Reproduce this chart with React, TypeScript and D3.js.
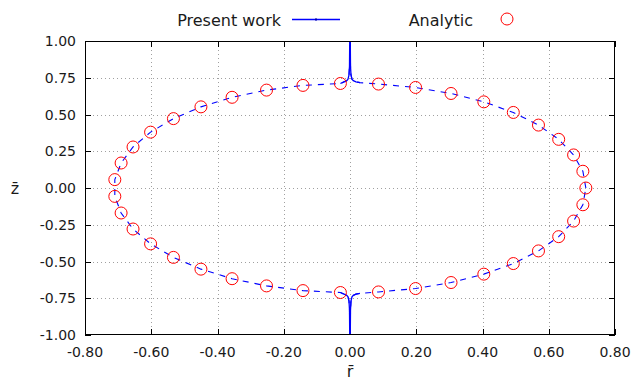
import React from 'react';
import * as d3 from 'd3';

// analytic solution points (r, z)
const analyticR = [
  0.712, 0.703, 0.675, 0.63, 0.569, 0.493, 0.404, 0.305, 0.198, 0.086, -0.029, -0.142, -0.252,
  -0.356, -0.45, -0.533, -0.602, -0.655, -0.691, -0.71, -0.71, -0.691, -0.655, -0.602, -0.533,
  -0.45, -0.356, -0.252, -0.142, -0.029, 0.086, 0.198, 0.305, 0.404, 0.493, 0.569, 0.63, 0.675,
  0.703,
];
const analyticZ = [
  0.0, 0.114, 0.225, 0.331, 0.428, 0.514, 0.586, 0.643, 0.684, 0.707, 0.711, 0.698, 0.666, 0.617,
  0.552, 0.472, 0.38, 0.279, 0.17, 0.057, -0.057, -0.17, -0.279, -0.38, -0.472, -0.552, -0.617,
  -0.666, -0.698, -0.711, -0.707, -0.684, -0.643, -0.586, -0.514, -0.428, -0.331, -0.225, -0.114,
];

// present work curve, with the spikes on the axis
const presentR = [
  0.712, 0.703, 0.675, 0.63, 0.569, 0.493, 0.404, 0.305, 0.198, 0.086,
  0.03, 0.018, 0.01, 0.006, 0.003, 0.0015, 0.0005, -0.0005, -0.0015, -0.003, -0.006, -0.01, -0.018,
  -0.029, -0.142, -0.252, -0.356, -0.45, -0.533, -0.602, -0.655, -0.691, -0.71, -0.71, -0.691,
  -0.655, -0.602, -0.533, -0.45, -0.356, -0.252, -0.142, -0.029,
  -0.018, -0.01, -0.006, -0.003, -0.0015, -0.0005, 0.0005, 0.0015, 0.003, 0.006, 0.01, 0.018, 0.03,
  0.086, 0.198, 0.305, 0.404, 0.493, 0.569, 0.63, 0.675, 0.703, 0.712,
];
const presentZ = [
  0.0, 0.114, 0.225, 0.331, 0.428, 0.514, 0.586, 0.643, 0.684, 0.707,
  0.717, 0.722, 0.73, 0.74, 0.77, 0.83, 1.1, 1.1, 0.83, 0.77, 0.74, 0.73, 0.722,
  0.711, 0.698, 0.666, 0.617, 0.552, 0.472, 0.38, 0.279, 0.17, 0.057, -0.057, -0.17, -0.279, -0.38,
  -0.472, -0.552, -0.617, -0.666, -0.698, -0.711,
  -0.722, -0.73, -0.74, -0.77, -0.83, -1.1, -1.1, -0.83, -0.77, -0.74, -0.73, -0.722, -0.717,
  -0.707, -0.684, -0.643, -0.586, -0.514, -0.428, -0.331, -0.225, -0.114, 0.0,
];

const xTicks = [-0.8, -0.6, -0.4, -0.2, 0, 0.2, 0.4, 0.6, 0.8];
const yTicks = [-1, -0.75, -0.5, -0.25, 0, 0.25, 0.5, 0.75, 1];

const W = 631;
const H = 382;
const margin = { left: 85, right: 16, top: 41, bottom: 47 };
const font = '"DejaVu Sans", sans-serif';

const App: React.FC = () => {
  const x = d3.scaleLinear().domain([-0.8, 0.8]).range([margin.left, W - margin.right]);
  const y = d3.scaleLinear().domain([-1, 1]).range([H - margin.bottom, margin.top]);

  const present = presentR.map((r, i) => ({ r, z: presentZ[i] }));
  const analytic = analyticR.map((r, i) => ({ r, z: analyticZ[i] }));

  const line = d3
    .line<{ r: number; z: number }>()
    .x((d) => x(d.r))
    .y((d) => y(d.z));
  // spikes near r = 0 are drawn solid
  const spike = d3
    .line<{ r: number; z: number }>()
    .defined((d) => Math.abs(d.r) < 0.035)
    .x((d) => x(d.r))
    .y((d) => y(d.z));

  const x0 = margin.left;
  const x1 = W - margin.right;
  const y0 = H - margin.bottom;
  const y1 = margin.top;
  const tick = 6;

  return (
    <svg
      width={W}
      height={H}
      style={{ position: 'absolute', left: 0, top: 0, background: '#fff' }}
      fontFamily={font}
    >
      <defs>
        <clipPath id="plot">
          <rect x={x0} y={y1} width={x1 - x0} height={y0 - y1} />
        </clipPath>
      </defs>

      {/* grid */}
      <g stroke="#a0a0a0" strokeWidth={1} strokeDasharray="1,3">
        {xTicks.slice(1, -1).map((t) => (
          <line key={'gx' + t} x1={Math.round(x(t)) + 0.5} x2={Math.round(x(t)) + 0.5} y1={y0} y2={y1} />
        ))}
        {yTicks.slice(1, -1).map((t) => (
          <line key={'gy' + t} x1={x0} x2={x1} y1={Math.round(y(t)) + 0.5} y2={Math.round(y(t)) + 0.5} />
        ))}
      </g>

      {/* ticks, mirrored */}
      <g stroke="#000" strokeWidth={1}>
        {xTicks.map((t) => {
          const px = Math.round(x(t)) + 0.5;
          return (
            <g key={'tx' + t}>
              <line x1={px} x2={px} y1={y0} y2={y0 - tick} />
              <line x1={px} x2={px} y1={y1} y2={y1 + tick} />
            </g>
          );
        })}
        {yTicks.map((t) => {
          const py = Math.round(y(t)) + 0.5;
          return (
            <g key={'ty' + t}>
              <line x1={x0} x2={x0 + tick} y1={py} y2={py} />
              <line x1={x1} x2={x1 - tick} y1={py} y2={py} />
            </g>
          );
        })}
      </g>

      {/* curves */}
      <g clipPath="url(#plot)">
        <path d={line(present) || ''} fill="none" stroke="#0000ff" strokeWidth={1.1} strokeDasharray="6,6" />
        <path d={spike(present) || ''} fill="none" stroke="#0000ff" strokeWidth={1.3} />
      </g>
      {analytic.map((d, i) => (
        <circle key={i} cx={x(d.r)} cy={y(d.z)} r={6} fill="none" stroke="#ff0000" strokeWidth={1} />
      ))}

      {/* border */}
      <rect
        x={x0 + 0.5}
        y={y1 + 0.5}
        width={x1 - x0 - 1}
        height={y0 - y1 - 1}
        fill="none"
        stroke="#000"
        strokeWidth={1}
      />

      {/* tick labels */}
      <g fontSize={14} fill="#1a1a1a">
        {xTicks.map((t) => (
          <text key={'lx' + t} x={x(t)} y={357} textAnchor="middle">
            {t.toFixed(2)}
          </text>
        ))}
        {yTicks.map((t) => (
          <text key={'ly' + t} x={76} y={y(t) + 5} textAnchor="end">
            {t.toFixed(2)}
          </text>
        ))}
      </g>

      {/* axis titles */}
      <text x={x(0)} y={377} fontSize={16} textAnchor="middle" fill="#1a1a1a">
        {'r\u0304'}
      </text>
      <text x={15} y={194} fontSize={16} textAnchor="middle" fill="#1a1a1a">
        {'z\u0304'}
      </text>

      {/* legend */}
      <g fontSize={16} fill="#1a1a1a">
        <text x={281} y={26} textAnchor="end">
          Present work
        </text>
        <line x1={292} x2={340} y1={19.5} y2={19.5} stroke="#0000ff" strokeWidth={1.3} />
        <rect x={315} y={18.5} width={2} height={2} fill="#0000aa" />
        <text x={473} y={26} textAnchor="end">
          Analytic
        </text>
        <circle cx={507} cy={19} r={6} fill="none" stroke="#ff0000" strokeWidth={1} />
      </g>
    </svg>
  );
};

export default App;
